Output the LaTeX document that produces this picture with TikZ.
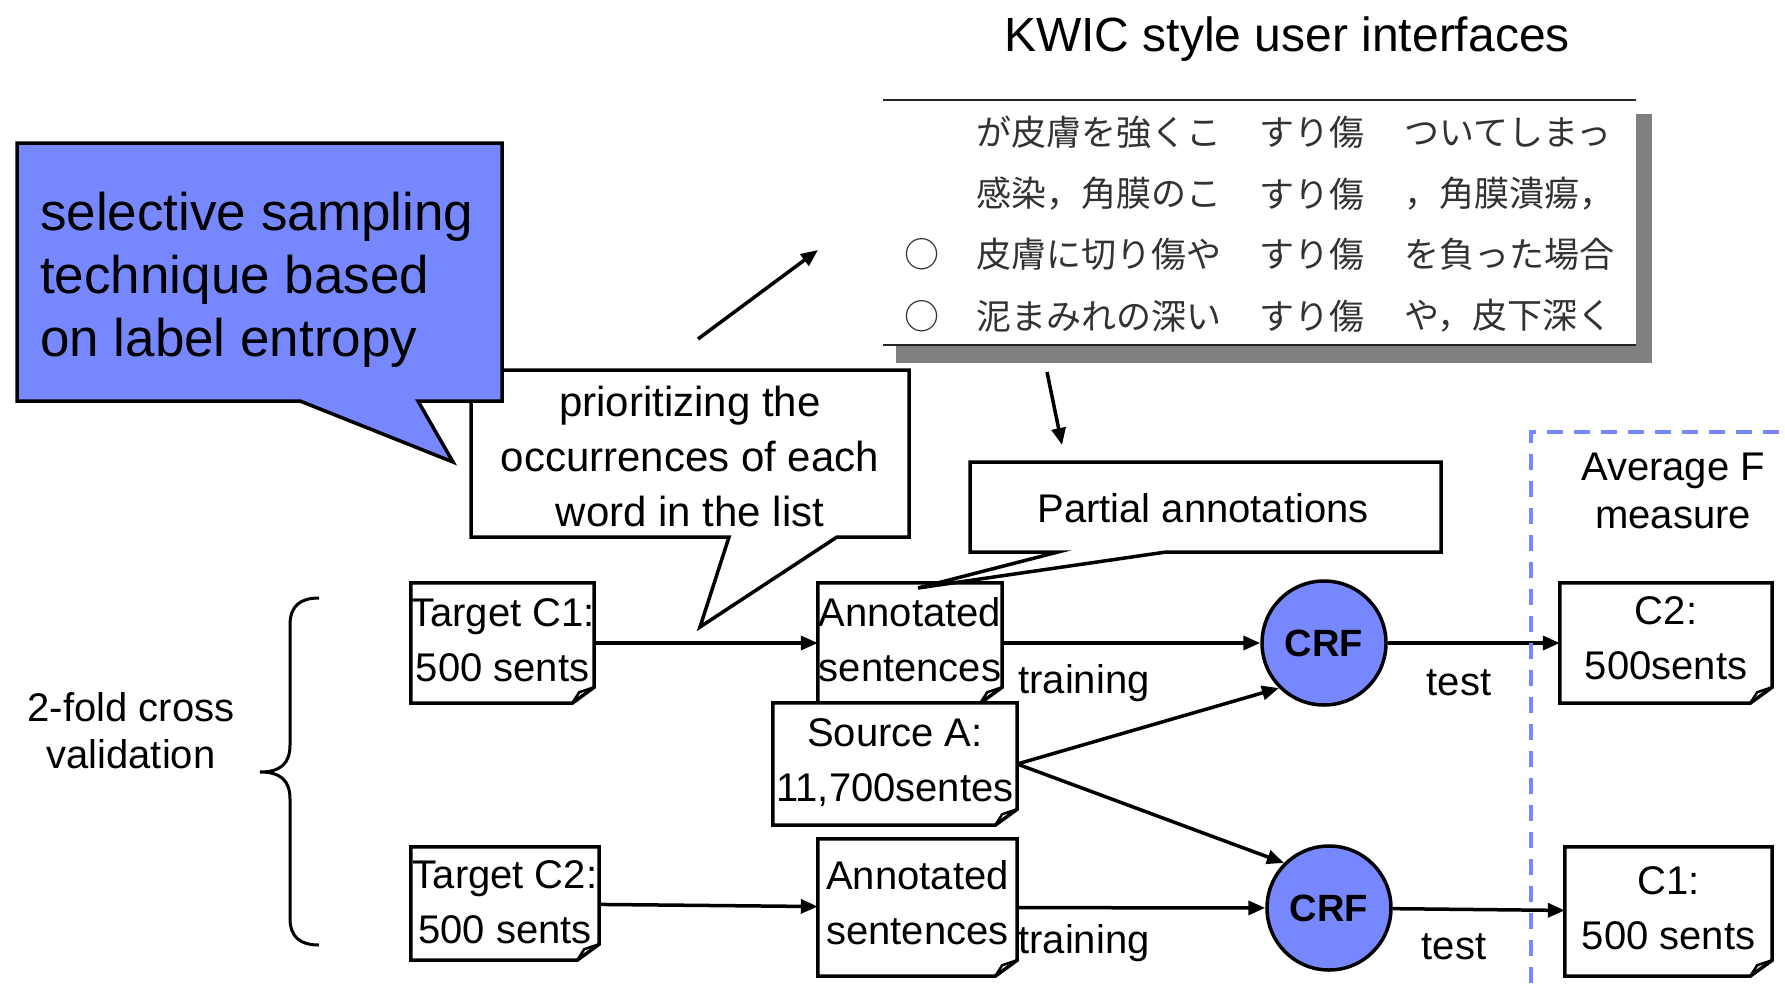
\documentclass[tikz,border=0pt]{standalone}
\usepackage{fontspec}
\setmainfont{Liberation Sans}
\newfontfamily\jpfont{Noto Sans CJK JP}
\usetikzlibrary{arrows.meta}
\definecolor{cblue}{RGB}{119,136,255}
\definecolor{shgray}{RGB}{128,128,128}
\definecolor{kwtext}{RGB}{50,50,50}
\tikzset{
  lw/.style={line width=3.5pt},
  arr/.style={line width=3.5pt,-{Triangle[length=17pt,width=14pt]}},
  docnode/.style={rectangle, inner sep=0pt, fill=white},
  doctext/.style={inner sep=0pt, align=center, font=\fontsize{40}{55}\selectfont},
  lbl/.style={inner sep=0pt, font=\fontsize{40}{48}\selectfont},
  jp/.style={inner sep=0pt, anchor=west, text=kwtext, font=\jpfont\fontsize{35}{35}\selectfont},
  crf/.style={circle, draw, lw, fill=cblue, minimum size=124pt, inner sep=0pt, font=\bfseries\fontsize{38}{38}\selectfont},
}
% #1 name, #2 position, #3 width, #4 height, #5 text raise, #6 line 1, #7 line 2
\newcommand\docbox[7]{%
  \node[docnode, minimum width=#3, minimum height=#4] (#1) at #2 {};
  \node[doctext] (#1t) at ([yshift=#5]#1.center) {\mbox{#6}\\\mbox{#7}};
  \draw[lw] (#1.north west) -- (#1.north east) -- ([yshift=16pt]#1.south east) -- ([xshift=-22pt]#1.south east) -- (#1.south west) -- cycle;
  \draw[line width=2.5pt] ([xshift=-22pt]#1.south east) -- ([xshift=-15pt,yshift=11pt]#1.south east) -- ([yshift=16pt]#1.south east);
}
\begin{document}
\begin{tikzpicture}[x=1pt,y=-1pt]
\useasboundingbox[fill=white] (0,0) rectangle (1785,983);

% title
\node[anchor=base, inner sep=0pt, font=\fontsize{48}{58}\selectfont] (title) at (1287,51) {KWIC style user interfaces};

% KWIC panel
\fill[shgray] (896,114) rectangle (1652,363);
\fill[white] (883,100) rectangle (1636,345);
\draw[line width=2.2pt, black!85] (883,100) -- (1636,100);
\draw[line width=2.2pt, black!85] (883,345) -- (1636,345);
\node[jp] (l1) at (976,132) {が皮膚を強くこ};
\node[jp] (m1) at (1259,132) {すり傷};
\node[jp] (r1) at (1404,132) {ついてしまっ};
\node[jp] (l2) at (976,194) {感染，角膜のこ};
\node[jp] (m2) at (1259,194) {すり傷};
\node[jp] (r2) at (1404,194) {，角膜潰瘍，};
\node[jp, anchor=center] (o3) at (922,254) {○};
\node[jp] (l3) at (976,254) {皮膚に切り傷や};
\node[jp] (m3) at (1259,254) {すり傷};
\node[jp] (r3) at (1404,254) {を負った場合};
\node[jp, anchor=center] (o4) at (922,316) {○};
\node[jp] (l4) at (976,316) {泥まみれの深い};
\node[jp] (m4) at (1259,316) {すり傷};
\node[jp] (r4) at (1404,316) {や，皮下深く};

% arrows near KWIC
\coordinate (ka1) at (698,339);
\coordinate (ka2) at (818,250);
\draw[arr] (ka1) -- (ka2);
\coordinate (kb1) at (1047,372);
\coordinate (kb2) at (1062,445);
\draw[arr] (kb1) -- (kb2);

% prioritizing callout
\draw[lw, fill=white] (471,370) -- (909,370) -- (909,537) -- (837,537) -- (700,627) -- (729,537) -- (471,537) -- cycle;
\node[align=center, inner sep=0pt, font=\fontsize{42}{55}\selectfont] (prio) at (690,456) {prioritizing the\\occurrences of each\\word in the list};

% blue callout
\draw[lw, fill=cblue] (17,143) -- (502,143) -- (502,401) -- (418,401) -- (453,462) -- (300,401) -- (17,401) -- cycle;
\node[anchor=west, align=left, inner sep=0pt, font=\fontsize{53}{63}\selectfont] (sel) at (40,280) {selective sampling\\technique based\\on label entropy};

% brace and label
\draw[line width=3pt] (319,598) .. controls (300,598) and (290,606) .. (290,625) -- (290,745) .. controls (290,764) and (280,772) .. (260,772) .. controls (280,772) and (290,780) .. (290,799) -- (290,918) .. controls (290,937) and (300,945) .. (319,945);
\node[lbl, align=center, font=\fontsize{40}{47}\selectfont] (cv) at (131,731) {2-fold cross\\validation};

% document boxes
\docbox{tc1}{(502.5,643)}{183pt}{120pt}{3pt}{Target C1:}{500 sents}
\docbox{tc2}{(505,903.5)}{188pt}{113pt}{1pt}{Target C2:}{500 sents}
\docbox{an1}{(910,643)}{184pt}{120pt}{3.5pt}{Annotated}{sentences}
\docbox{src}{(895,764)}{244pt}{122pt}{1pt}{Source A:}{11,700sentes}
\docbox{an2}{(917.5,907.5)}{199pt}{137pt}{5pt}{Annotated}{sentences}
\docbox{c2}{(1666,643)}{212pt}{120pt}{4.5pt}{C2:}{500sents}
\docbox{c1}{(1668.5,911.5)}{207pt}{129pt}{3.5pt}{C1:}{500 sents}

% partial annotations callout
\draw[lw, fill=white] (970,462) -- (1441,462) -- (1441,552) -- (1166,552) -- (918,588) -- (1058,552) -- (970,552) -- cycle;
\node[lbl] (partial) at (1203,508) {Partial annotations};

% CRF nodes
\node[crf] (crf1) at (1324,643) {CRF};
\node[crf] (crf2) at (1329,908) {CRF};

% connectors
\draw[arr] (tc1) -- (an1);
\draw[arr] (an1) -- (crf1);
\draw[arr] (crf1) -- (c2);
\draw[arr] (src.east) -- (crf1.225);
\draw[arr] (src.east) -- (crf2.135);
\draw[arr] (tc2) -- (an2);
\draw[arr] (an2) -- (crf2);
\draw[arr] (crf2) -- (c1);

% labels
\node[lbl] (tr1) at (1084,683) {training};
\node[lbl] (te1) at (1459,683) {test};
\node[lbl] (tr2) at (1084,943) {training};
\node[lbl] (te2) at (1454,947) {test};

% dashed region
\coordinate (d1) at (1531,983);
\coordinate (d2) at (1531,432);
\coordinate (d3) at (1785,432);
\draw[cblue, line width=4pt, dash pattern=on 16pt off 11pt] (d1) -- (d2) -- (d3);
\node[lbl, align=center] (avg) at (1673,491) {Average F\\measure};
\end{tikzpicture}
\end{document}
